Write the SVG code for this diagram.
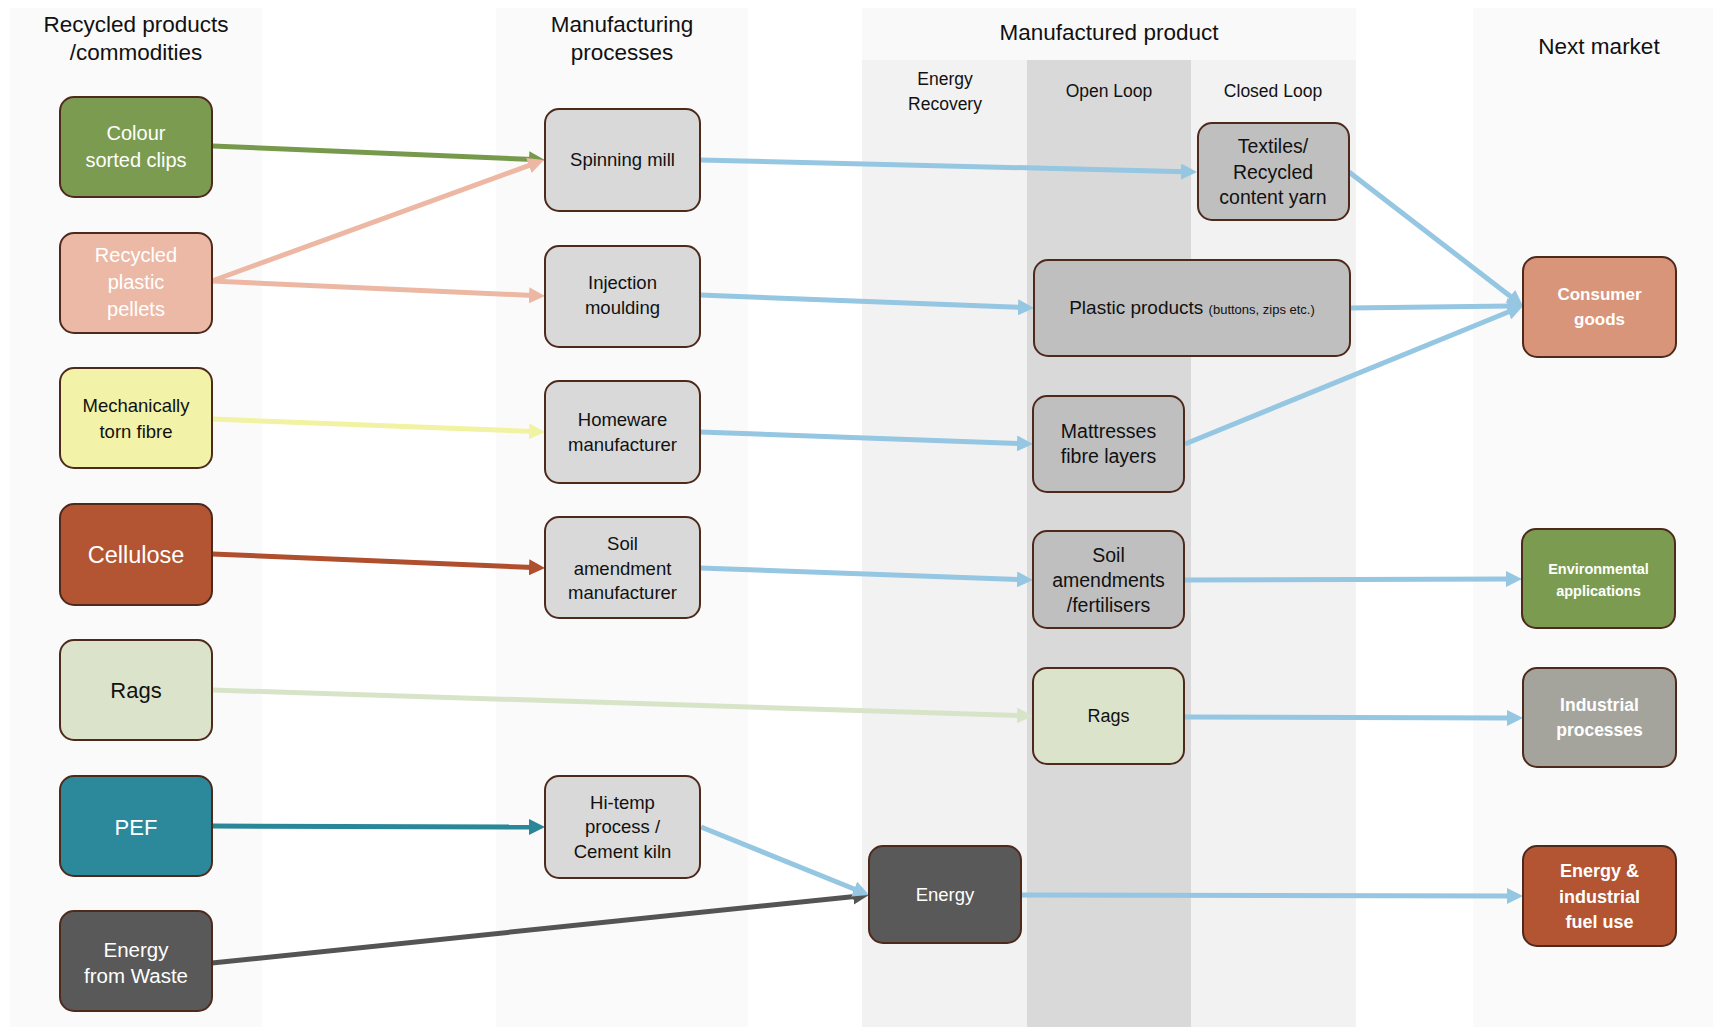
<svg xmlns="http://www.w3.org/2000/svg" width="1713" height="1028" viewBox="0 0 1713 1028">
  <style>
    text { font-family: "Liberation Sans", Arial, sans-serif; text-anchor: middle; }
    .head { font-size: 22.5px; fill: #111; }
    .sub { font-size: 17.5px; fill: #111; }
    .node rect { stroke: #4e2a1c; stroke-width: 2; }
    .dark { fill: #111; }
    .light { fill: #fff; }
    .bold { font-weight: bold; }
    .conn line { fill: none; stroke-width: 5; }
  </style>
  <defs>
    <marker id="m-green" markerUnits="userSpaceOnUse" viewBox="0 0 16 16" markerWidth="16" markerHeight="16" refX="4" refY="8" orient="auto"><path d="M0,0 L16,8 L0,16 z" fill="#77994b"/></marker>
    <marker id="m-pink" markerUnits="userSpaceOnUse" viewBox="0 0 16 16" markerWidth="16" markerHeight="16" refX="4" refY="8" orient="auto"><path d="M0,0 L16,8 L0,16 z" fill="#edb8a3"/></marker>
    <marker id="m-yellow" markerUnits="userSpaceOnUse" viewBox="0 0 16 16" markerWidth="16" markerHeight="16" refX="4" refY="8" orient="auto"><path d="M0,0 L16,8 L0,16 z" fill="#f1f2a2"/></marker>
    <marker id="m-rust" markerUnits="userSpaceOnUse" viewBox="0 0 16 16" markerWidth="16" markerHeight="16" refX="4" refY="8" orient="auto"><path d="M0,0 L16,8 L0,16 z" fill="#b04f2e"/></marker>
    <marker id="m-sage" markerUnits="userSpaceOnUse" viewBox="0 0 16 16" markerWidth="16" markerHeight="16" refX="4" refY="8" orient="auto"><path d="M0,0 L16,8 L0,16 z" fill="#d8e4c8"/></marker>
    <marker id="m-teal" markerUnits="userSpaceOnUse" viewBox="0 0 16 16" markerWidth="16" markerHeight="16" refX="4" refY="8" orient="auto"><path d="M0,0 L16,8 L0,16 z" fill="#2a8797"/></marker>
    <marker id="m-grey" markerUnits="userSpaceOnUse" viewBox="0 0 16 16" markerWidth="16" markerHeight="16" refX="4" refY="8" orient="auto"><path d="M0,0 L16,8 L0,16 z" fill="#545454"/></marker>
    <marker id="m-blue" markerUnits="userSpaceOnUse" viewBox="0 0 16 16" markerWidth="16" markerHeight="16" refX="4" refY="8" orient="auto"><path d="M0,0 L16,8 L0,16 z" fill="#95c6e2"/></marker>
  </defs>

  <!-- canvas -->
  <rect x="0" y="0" width="1713" height="1028" fill="#ffffff"/>

  <!-- column bands -->
  <g id="columns">
    <rect x="10" y="8" width="252" height="1019" fill="#fafafa"/>
    <rect x="496" y="8" width="252" height="1019" fill="#fafafa"/>
    <rect x="862" y="8" width="494" height="52" fill="#f9f9f9"/>
    <rect x="862" y="60" width="165" height="967" fill="#f2f2f2"/>
    <rect x="1027" y="60" width="164" height="967" fill="#d9d9d9"/>
    <rect x="1191" y="60" width="165" height="967" fill="#f2f2f2"/>
    <rect x="1473" y="8" width="240" height="1019" fill="#fafafa"/>
  </g>

  <!-- column headings -->
  <g id="headings">
    <text class="head" x="136" y="32">Recycled products</text>
    <text class="head" x="136" y="60">/commodities</text>
    <text class="head" x="622" y="32">Manufacturing</text>
    <text class="head" x="622" y="60">processes</text>
    <text class="head" x="1109" y="40">Manufactured product</text>
    <text class="head" x="1599" y="54">Next market</text>
    <text class="sub" x="945" y="85">Energy</text>
    <text class="sub" x="945" y="110">Recovery</text>
    <text class="sub" x="1109" y="97">Open Loop</text>
    <text class="sub" x="1273" y="97">Closed Loop</text>
  </g>

  <!-- connectors -->
  <g id="connectors" class="conn">
    <line x1="212" y1="146" x2="533" y2="159.5" stroke="#77994b" marker-end="url(#m-green)"/>
    <line x1="212" y1="281" x2="532.7" y2="164.1" stroke="#edb8a3" marker-end="url(#m-pink)"/>
    <line x1="212" y1="281" x2="533" y2="295.5" stroke="#edb8a3" marker-end="url(#m-pink)"/>
    <line x1="212" y1="419" x2="533" y2="431.5" stroke="#f1f2a2" marker-end="url(#m-yellow)"/>
    <line x1="212" y1="554" x2="533" y2="567.5" stroke="#b04f2e" marker-end="url(#m-rust)"/>
    <line x1="212" y1="690" x2="1021" y2="715.6" stroke="#d8e4c8" marker-end="url(#m-sage)"/>
    <line x1="212" y1="826" x2="533" y2="827" stroke="#2a8797" marker-end="url(#m-teal)"/>
    <line x1="212" y1="963" x2="857.1" y2="896.2" stroke="#545454" stroke-width="5.5" marker-end="url(#m-grey)"/>

    <line x1="700" y1="160" x2="1185" y2="171.7" stroke="#95c6e2" stroke-width="5.5" marker-end="url(#m-blue)"/>
    <line x1="700" y1="295" x2="1022" y2="307.5" stroke="#95c6e2" stroke-width="5.5" marker-end="url(#m-blue)"/>
    <line x1="700" y1="432" x2="1021" y2="443.6" stroke="#95c6e2" stroke-width="5.5" marker-end="url(#m-blue)"/>
    <line x1="700" y1="568" x2="1021" y2="579.6" stroke="#95c6e2" stroke-width="5.5" marker-end="url(#m-blue)"/>
    <line x1="701" y1="827" x2="857.9" y2="890.5" stroke="#95c6e2" stroke-width="5.5" marker-end="url(#m-blue)"/>
    <line x1="1349" y1="172" x2="1513.5" y2="298.7" stroke="#95c6e2" stroke-width="5.5" marker-end="url(#m-blue)"/>
    <line x1="1350" y1="308" x2="1511" y2="306.1" stroke="#95c6e2" stroke-width="5.5" marker-end="url(#m-blue)"/>
    <line x1="1185" y1="444" x2="1511.9" y2="310.5" stroke="#95c6e2" stroke-width="5.5" marker-end="url(#m-blue)"/>
    <line x1="1185" y1="580" x2="1510" y2="579" stroke="#95c6e2" stroke-width="5.5" marker-end="url(#m-blue)"/>
    <line x1="1185" y1="717" x2="1511" y2="718" stroke="#95c6e2" stroke-width="5.5" marker-end="url(#m-blue)"/>
    <line x1="1021" y1="895" x2="1511" y2="896" stroke="#95c6e2" stroke-width="5.5" marker-end="url(#m-blue)"/>
  </g>

  <!-- recycled products / commodities -->
  <g id="colour-sorted-clips" class="node">
    <rect x="60" y="97" width="152" height="100" rx="14" fill="#7b9c50"/>
    <text class="light" x="136" y="140" font-size="20">Colour</text>
    <text class="light" x="136" y="167" font-size="20">sorted clips</text>
  </g>
  <g id="recycled-plastic-pellets" class="node">
    <rect x="60" y="233" width="152" height="100" rx="14" fill="#ebb9a6"/>
    <text class="light" x="136" y="262" font-size="20">Recycled</text>
    <text class="light" x="136" y="289" font-size="20">plastic</text>
    <text class="light" x="136" y="316" font-size="20">pellets</text>
  </g>
  <g id="mechanically-torn-fibre" class="node">
    <rect x="60" y="368" width="152" height="100" rx="14" fill="#f2f2a8"/>
    <text class="dark" x="136" y="412" font-size="18.5">Mechanically</text>
    <text class="dark" x="136" y="438" font-size="18.5">torn fibre</text>
  </g>
  <g id="cellulose" class="node">
    <rect x="60" y="504" width="152" height="101" rx="14" fill="#b35533"/>
    <text class="light" x="136" y="563" font-size="23.5">Cellulose</text>
  </g>
  <g id="rags-source" class="node">
    <rect x="60" y="640" width="152" height="100" rx="14" fill="#dbe4cb"/>
    <text class="dark" x="136" y="698" font-size="22">Rags</text>
  </g>
  <g id="pef" class="node">
    <rect x="60" y="776" width="152" height="100" rx="14" fill="#2b899b"/>
    <text class="light" x="136" y="835" font-size="22">PEF</text>
  </g>
  <g id="energy-from-waste" class="node">
    <rect x="60" y="911" width="152" height="100" rx="14" fill="#595959"/>
    <text class="light" x="136" y="957" font-size="20.5">Energy</text>
    <text class="light" x="136" y="983" font-size="20.5">from Waste</text>
  </g>

  <!-- manufacturing processes -->
  <g id="spinning-mill" class="node">
    <rect x="545" y="109" width="155" height="102" rx="14" fill="#d9d9d9"/>
    <text class="dark" x="622.5" y="166" font-size="18.5">Spinning mill</text>
  </g>
  <g id="injection-moulding" class="node">
    <rect x="545" y="246" width="155" height="101" rx="14" fill="#d9d9d9"/>
    <text class="dark" x="622.5" y="289" font-size="18.5">Injection</text>
    <text class="dark" x="622.5" y="314" font-size="18.5">moulding</text>
  </g>
  <g id="homeware-manufacturer" class="node">
    <rect x="545" y="381" width="155" height="102" rx="14" fill="#d9d9d9"/>
    <text class="dark" x="622.5" y="426" font-size="18.5">Homeware</text>
    <text class="dark" x="622.5" y="451" font-size="18.5">manufacturer</text>
  </g>
  <g id="soil-amendment-manufacturer" class="node">
    <rect x="545" y="517" width="155" height="101" rx="14" fill="#d9d9d9"/>
    <text class="dark" x="622.5" y="550" font-size="18.5">Soil</text>
    <text class="dark" x="622.5" y="575" font-size="18.5">amendment</text>
    <text class="dark" x="622.5" y="599" font-size="18.5">manufacturer</text>
  </g>
  <g id="hi-temp-process" class="node">
    <rect x="545" y="776" width="155" height="102" rx="14" fill="#d9d9d9"/>
    <text class="dark" x="622.5" y="809" font-size="18.5">Hi-temp</text>
    <text class="dark" x="622.5" y="833" font-size="18.5">process /</text>
    <text class="dark" x="622.5" y="858" font-size="18.5">Cement kiln</text>
  </g>

  <!-- manufactured products -->
  <g id="textiles-yarn" class="node">
    <rect x="1198" y="123" width="151" height="97" rx="14" fill="#bfbfbf"/>
    <text class="dark" x="1273" y="153" font-size="19.5">Textiles/</text>
    <text class="dark" x="1273" y="179" font-size="19.5">Recycled</text>
    <text class="dark" x="1273" y="204" font-size="19.5">content yarn</text>
  </g>
  <g id="plastic-products" class="node">
    <rect x="1034" y="260" width="316" height="96" rx="14" fill="#bfbfbf"/>
    <text class="dark" x="1192" y="314" font-size="19"><tspan>Plastic products </tspan><tspan font-size="13">(buttons, zips etc.)</tspan></text>
  </g>
  <g id="mattresses" class="node">
    <rect x="1033" y="396" width="151" height="96" rx="14" fill="#bfbfbf"/>
    <text class="dark" x="1108.5" y="438" font-size="19.5">Mattresses</text>
    <text class="dark" x="1108.5" y="463" font-size="19.5">fibre layers</text>
  </g>
  <g id="soil-amendments" class="node">
    <rect x="1033" y="531" width="151" height="97" rx="14" fill="#bfbfbf"/>
    <text class="dark" x="1108.5" y="562" font-size="19.5">Soil</text>
    <text class="dark" x="1108.5" y="587" font-size="19.5">amendments</text>
    <text class="dark" x="1108.5" y="612" font-size="19.5">/fertilisers</text>
  </g>
  <g id="rags-product" class="node">
    <rect x="1033" y="668" width="151" height="96" rx="14" fill="#dbe4cb"/>
    <text class="dark" x="1108.5" y="722" font-size="18">Rags</text>
  </g>
  <g id="energy" class="node">
    <rect x="869" y="846" width="152" height="97" rx="14" fill="#595959"/>
    <text class="light" x="945" y="901" font-size="18.5">Energy</text>
  </g>

  <!-- next market -->
  <g id="consumer-goods" class="node">
    <rect x="1523" y="257" width="153" height="100" rx="14" fill="#d9957a"/>
    <text class="light bold" x="1599.5" y="300" font-size="17">Consumer</text>
    <text class="light bold" x="1599.5" y="325" font-size="17">goods</text>
  </g>
  <g id="environmental-applications" class="node">
    <rect x="1522" y="529" width="153" height="99" rx="14" fill="#7b9c50"/>
    <text class="light bold" x="1598.5" y="574" font-size="14.5">Environmental</text>
    <text class="light bold" x="1598.5" y="596" font-size="14.5">applications</text>
  </g>
  <g id="industrial-processes" class="node">
    <rect x="1523" y="668" width="153" height="99" rx="14" fill="#a5a49c"/>
    <text class="light bold" x="1599.5" y="711" font-size="17.5">Industrial</text>
    <text class="light bold" x="1599.5" y="736" font-size="17.5">processes</text>
  </g>
  <g id="energy-industrial-fuel" class="node">
    <rect x="1523" y="846" width="153" height="100" rx="14" fill="#b35533"/>
    <text class="light bold" x="1599.5" y="877" font-size="18">Energy &amp;</text>
    <text class="light bold" x="1599.5" y="903" font-size="18">industrial</text>
    <text class="light bold" x="1599.5" y="928" font-size="18">fuel use</text>
  </g>
</svg>
